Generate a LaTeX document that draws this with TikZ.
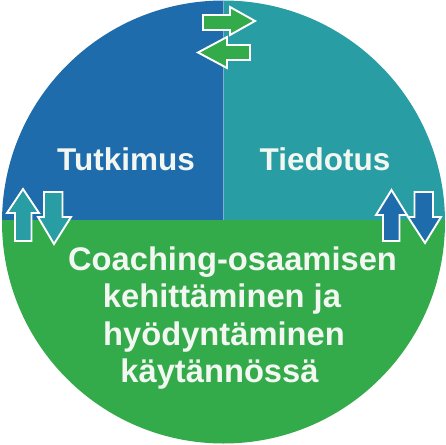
\documentclass[tikz,border=0pt]{standalone}
\usepackage{fontspec}
\setmainfont{Liberation Sans}
\definecolor{qblue}{RGB}{30,108,172}
\definecolor{qteal}{RGB}{40,157,164}
\definecolor{qgreen}{RGB}{52,171,74}
\definecolor{txt}{RGB}{242,247,242}
\begin{document}
\begin{tikzpicture}[x=1pt,y=-1pt,
  lbl/.style={text=txt,font=\fontsize{31.5}{37}\selectfont\bfseries,inner sep=0pt,anchor=base},
  biglbl/.style={lbl,font=\fontsize{32.7}{38}\selectfont\bfseries},
  blockarrow/.style={draw=white,line width=1.9pt,line join=miter}]
\useasboundingbox (0,0) rectangle (446,444);
\begin{scope}
  \clip (223.5,222) circle (221.5);
  \fill[qblue] (0,0) rectangle (223.5,220);
  \fill[qteal] (223.5,0) rectangle (446,220);
  \fill[qgreen] (0,220) rectangle (446,444);
  \draw[white,opacity=0.45,line width=0.6pt] (223.5,0) -- (223.5,220);
\end{scope}
% top exchange arrows
\filldraw[blockarrow,fill=qgreen] (203,15) -- (230,15) -- (230,7) -- (255,21) -- (230,35) -- (230,30) -- (203,30) -- cycle;
\filldraw[blockarrow,fill=qgreen] (250,45) -- (227,45) -- (227,37) -- (198,52.5) -- (227,68) -- (227,60) -- (250,60) -- cycle;
% left arrows
\filldraw[blockarrow,fill=qteal] (23,189) -- (39,213) -- (31.5,213) -- (31.5,241) -- (15,241) -- (15,213) -- (7,213) -- cycle;
\filldraw[blockarrow,fill=qteal] (44,192) -- (62.5,192) -- (62.5,217) -- (71,217) -- (54,244) -- (38,217) -- (44,217) -- cycle;
% right arrows
\filldraw[blockarrow,fill=qblue] (391.5,190) -- (407,215) -- (399.5,215) -- (399.5,241) -- (383,241) -- (383,215) -- (376,215) -- cycle;
\filldraw[blockarrow,fill=qblue] (414.5,192) -- (433,192) -- (433,217) -- (441,217) -- (425,243) -- (408,217) -- (414.5,217) -- cycle;
% labels
\node[lbl] (tut) at (126,170) {Tutkimus};
\node[lbl] (tie) at (325,170) {Tiedotus};
\node[biglbl] (c1) at (232.5,270) {Coaching-osaamisen};
\node[biglbl] (c2) at (222,307.5) {kehittäminen ja};
\node[biglbl] (c3) at (224,345) {hyödyntäminen};
\node[biglbl] (c4) at (219.5,382) {käytännössä};
\end{tikzpicture}
\end{document}
